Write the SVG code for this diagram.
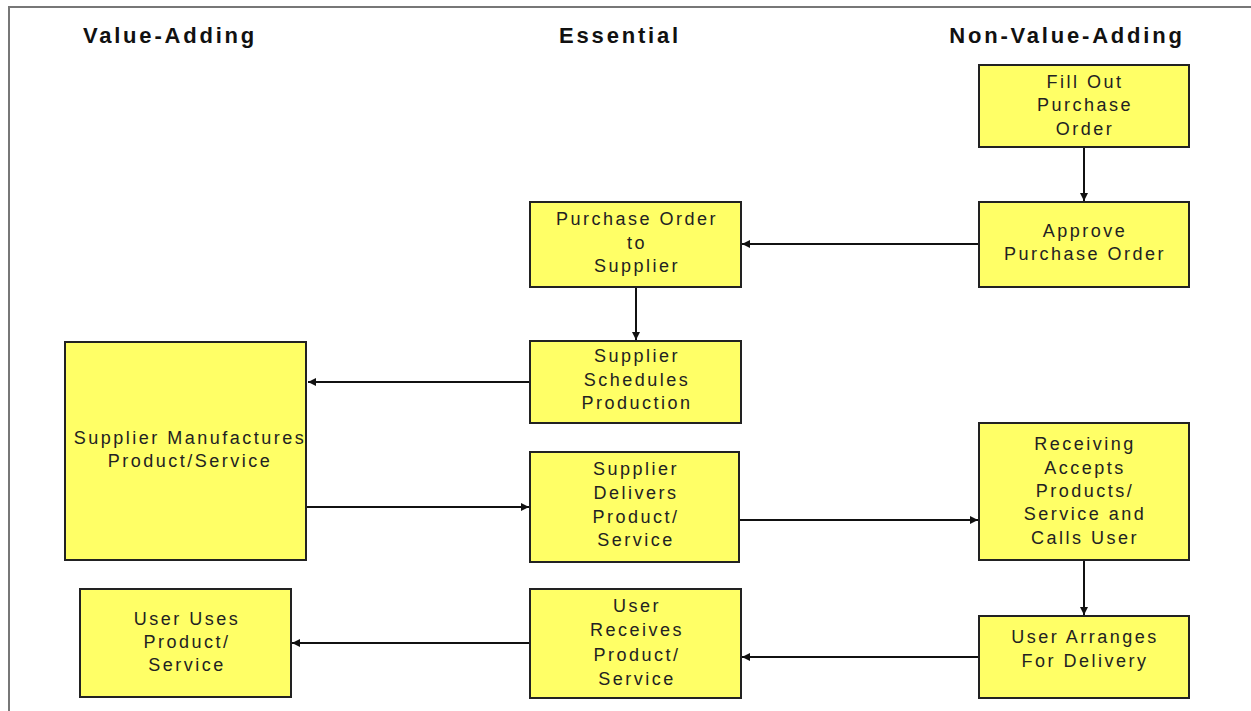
<svg xmlns="http://www.w3.org/2000/svg" width="1251" height="711" viewBox="0 0 1251 711">
<style>
.bg{fill:#ffffff}
.frame{stroke:#777;stroke-width:2;fill:none}
.hdr{font-family:"Liberation Sans",Arial,sans-serif;font-weight:bold;font-size:22px;letter-spacing:2.8px;fill:#111;text-anchor:middle}
.box{fill:#ffff66;stroke:#222;stroke-width:2}
.lbl{font-family:"Liberation Sans",Arial,sans-serif;font-size:18px;letter-spacing:2.5px;fill:#222;text-anchor:middle}
.conn{stroke:#111;stroke-width:2;fill:none}
</style>
<defs>
<marker id="ah" viewBox="0 0 10 10" refX="10" refY="5" markerWidth="4" markerHeight="4" orient="auto" markerUnits="strokeWidth">
<path d="M0,0 L10,5 L0,10 z" fill="#111"/>
</marker>
</defs>
<rect class="bg" x="0" y="0" width="1251" height="711"/>
<path class="frame" d="M9,711 V7 H1251"/>
<g id="headers">
<text class="hdr" x="170" y="43">Value-Adding</text>
<text class="hdr" x="620" y="43">Essential</text>
<text class="hdr" x="1067" y="43">Non-Value-Adding</text>
</g>
<g id="connectors">
<line class="conn" x1="1084" y1="147" x2="1084" y2="201" marker-end="url(#ah)"/>
<line class="conn" x1="979" y1="244" x2="742" y2="244" marker-end="url(#ah)"/>
<line class="conn" x1="636" y1="287" x2="636" y2="340" marker-end="url(#ah)"/>
<line class="conn" x1="530" y1="382" x2="308" y2="382" marker-end="url(#ah)"/>
<line class="conn" x1="306" y1="507" x2="529" y2="507" marker-end="url(#ah)"/>
<line class="conn" x1="740" y1="520" x2="978" y2="520" marker-end="url(#ah)"/>
<line class="conn" x1="1084" y1="560" x2="1084" y2="615" marker-end="url(#ah)"/>
<line class="conn" x1="979" y1="657" x2="742" y2="657" marker-end="url(#ah)"/>
<line class="conn" x1="530" y1="643" x2="292" y2="643" marker-end="url(#ah)"/>
</g>
<g id="fill-out">
<rect class="box" x="979" y="65" width="210" height="82"/>
<text class="lbl" x="1085" y="88">Fill Out</text>
<text class="lbl" x="1085" y="111">Purchase</text>
<text class="lbl" x="1085" y="135">Order</text>
</g>
<g id="approve">
<rect class="box" x="979" y="202" width="210" height="85"/>
<text class="lbl" x="1085" y="237">Approve</text>
<text class="lbl" x="1085" y="260">Purchase Order</text>
</g>
<g id="po-to-supplier">
<rect class="box" x="530" y="202" width="211" height="85"/>
<text class="lbl" x="637" y="225">Purchase Order</text>
<text class="lbl" x="637" y="249">to</text>
<text class="lbl" x="637" y="272">Supplier</text>
</g>
<g id="supplier-schedules">
<rect class="box" x="530" y="341" width="211" height="82"/>
<text class="lbl" x="637" y="362">Supplier</text>
<text class="lbl" x="637" y="386">Schedules</text>
<text class="lbl" x="637" y="409">Production</text>
</g>
<g id="supplier-manufactures">
<rect class="box" x="65" y="342" width="241" height="218"/>
<text class="lbl" x="190" y="444">Supplier Manufactures</text>
<text class="lbl" x="190" y="467">Product/Service</text>
</g>
<g id="supplier-delivers">
<rect class="box" x="530" y="452" width="209" height="110"/>
<text class="lbl" x="636" y="475">Supplier</text>
<text class="lbl" x="636" y="499">Delivers</text>
<text class="lbl" x="636" y="523">Product/</text>
<text class="lbl" x="636" y="546">Service</text>
</g>
<g id="receiving-accepts">
<rect class="box" x="979" y="423" width="210" height="137"/>
<text class="lbl" x="1085" y="450">Receiving</text>
<text class="lbl" x="1085" y="474">Accepts</text>
<text class="lbl" x="1085" y="497">Products/</text>
<text class="lbl" x="1085" y="520">Service and</text>
<text class="lbl" x="1085" y="544">Calls User</text>
</g>
<g id="user-uses">
<rect class="box" x="80" y="589" width="211" height="108"/>
<text class="lbl" x="187" y="625">User Uses</text>
<text class="lbl" x="187" y="648">Product/</text>
<text class="lbl" x="187" y="671">Service</text>
</g>
<g id="user-receives">
<rect class="box" x="530" y="589" width="211" height="109"/>
<text class="lbl" x="637" y="612">User</text>
<text class="lbl" x="637" y="636">Receives</text>
<text class="lbl" x="637" y="661">Product/</text>
<text class="lbl" x="637" y="685">Service</text>
</g>
<g id="user-arranges">
<rect class="box" x="979" y="616" width="210" height="82"/>
<text class="lbl" x="1085" y="643">User Arranges</text>
<text class="lbl" x="1085" y="667">For Delivery</text>
</g>
</svg>
